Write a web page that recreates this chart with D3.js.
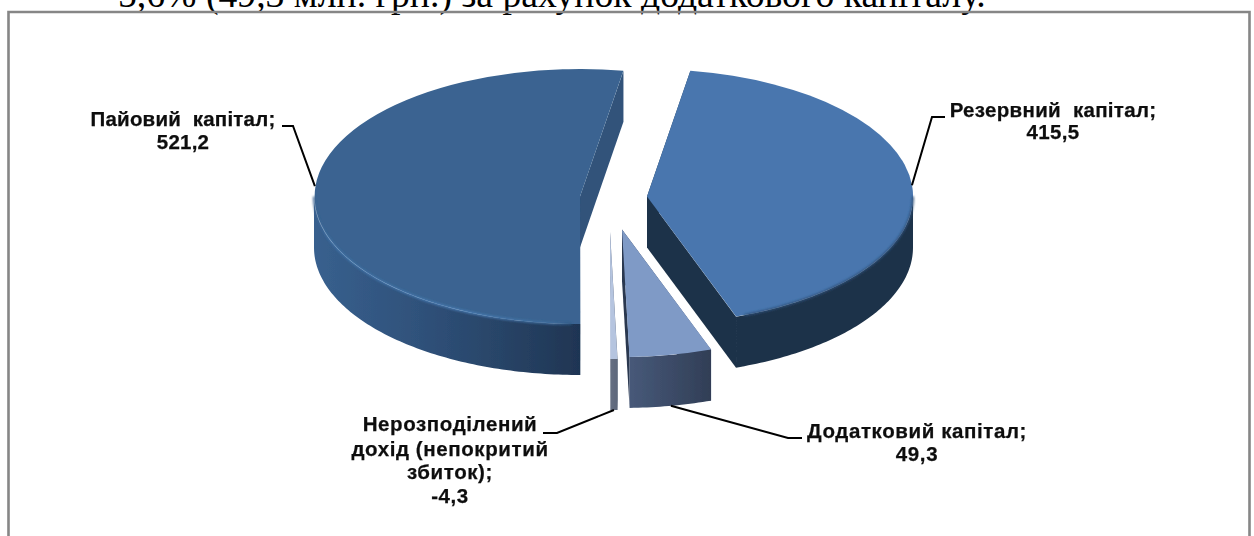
<!DOCTYPE html>
<html><head><meta charset="utf-8">
<script src="https://cdn.jsdelivr.net/npm/d3@7"></script>
<style>html,body{margin:0;padding:0;background:#fff;overflow:hidden}svg{display:block}</style>
</head><body><div id="c"></div>
<script>
const categories = ["Резервний капітал","Додатковий капітал","Нерозподілений дохід (непокритий збиток)","Пайовий капітал"];
const values = [415.5,49.3,-4.3,521.2];
const labelLines = [
  ["Резервний  капітал;","415,5"],
  ["Додатковий капітал;","49,3"],
  ["Нерозподілений","дохід (непокритий","збиток);","-4,3"],
  ["Пайовий  капітал;","521,2"]
];
const caption = "5,6% (49,3 млн. грн.) за рахунок додаткового капіталу.";

const W=1254,H=536;
const rx=266, ry=127.5, depth=51, startDeg=9.4;
const pieCentre=[613.5,196.5];
// layout: explosion offset of each slice, colours and label placement
const explode=[[33.5,0],[8.5,33],[-3.5,35],[-33.5,0]];
const topCol=["#4876AE","#7F9AC6","#B5C4DF","#3A6491"];
const cutCol=["#1D3249","#2A3750","#5F6A7E","#30527A"];
const rimStops=[
  [["0","#1D3249"],["1","#1D3249"]],
  [["0","#475979"],["1","#313E56"]],
  [["0","#666F82"],["1","#5E687B"]],
  [["0","#38608E"],["0.4","#2F517A"],["0.7","#284467"],["1","#1F3553"]]
];
const labelPos=[
  {x:1053,y:[117,139],elbow:[932,117],tail:[945,117],front:false,ls:0.3},
  {x:917,y:[438,461],elbow:[788,438],tail:[802,438],front:true,ls:0.6},
  {x:450,y:[431,456,479,503],elbow:[557,433],tail:[543,433],front:true,ls:0.6},
  {x:183,y:[126,149],elbow:[293,126],tail:[282,126],front:false,ls:0.2}
];

const svg=d3.select("#c").append("svg").attr("width",W).attr("height",H);
const defs=svg.append("defs");
const blur=defs.append("filter").attr("id","soft").attr("x","-5%").attr("y","-5%").attr("width","110%").attr("height","110%");
blur.append("feGaussianBlur").attr("stdDeviation",0.45);
const blurT=defs.append("filter").attr("id","softT").attr("x","-5%").attr("y","-5%").attr("width","110%").attr("height","110%");
blurT.append("feGaussianBlur").attr("stdDeviation",0.3);
const blur2=defs.append("filter").attr("id","bevel").attr("x","-5%").attr("y","-20%").attr("width","110%").attr("height","140%");
blur2.append("feGaussianBlur").attr("stdDeviation",0.9);

// surrounding page text, cut by the crop
svg.append("text").text(caption).attr("x",118).attr("y",7)
  .attr("font-family","'Liberation Serif'").attr("font-size",37.7).attr("fill","#000");
// frame
svg.append("path").attr("d",d3.line()([[8.5,H],[8.5,12],[1249.5,12],[1249.5,H]]))
  .attr("fill","none").attr("stroke","#868686").attr("stroke-width",2.6);

const st=startDeg*Math.PI/180;
const pie=d3.pie().value(d=>Math.abs(d)).sort(null).startAngle(st).endAngle(st+2*Math.PI);
const arcs=pie(values);
const arcGen=d3.arc().innerRadius(0).outerRadius(1);
const px=(a,i)=>pieCentre[0]+explode[i][0]+rx*Math.sin(a);
const py=(a,i)=>pieCentre[1]+explode[i][1]-ry*Math.cos(a);
const line=d3.line();

const g=svg.append("g").attr("filter","url(#soft)");
arcs.forEach((d,i)=>{
  const cx=pieCentre[0]+explode[i][0], cy=pieCentre[1]+explode[i][1];
  const s=g.append("g");
  // cut faces
  [d.startAngle,d.endAngle].forEach(a=>{
    s.append("path").attr("d",line([[cx,cy],[px(a,i),py(a,i)],[px(a,i),py(a,i)+depth],[cx,cy+depth]])+"Z").attr("fill",cutCol[i]);
  });
  // front rim: only the part between 90 and 270 degrees can be seen
  const a0=Math.max(d.startAngle,Math.PI/2), a1=Math.min(d.endAngle,Math.PI*1.5);
  const n=Math.max(2,Math.ceil((a1-a0)*60));
  const ang=d3.range(n+1).map(k=>a0+(a1-a0)*k/n);
  const upper=ang.map(a=>[px(a,i),py(a,i)]);
  const lower=ang.map(a=>[px(a,i),py(a,i)+depth]).reverse();
  const gid="rim"+i;
  const xs=upper.map(p=>p[0]);
  const lg=defs.append("linearGradient").attr("id",gid).attr("gradientUnits","userSpaceOnUse")
    .attr("x1",d3.min(xs)).attr("x2",d3.max(xs)).attr("y1",0).attr("y2",0);
  rimStops[i].forEach(t=>lg.append("stop").attr("offset",t[0]).attr("stop-color",t[1]));
  s.append("path").attr("d",line(upper.concat(lower))+"Z").attr("fill","url(#"+gid+")");
  // top face
  s.append("path").attr("d",arcGen(d)).attr("transform",`translate(${cx},${cy}) scale(${rx},${ry})`).attr("fill",topCol[i]);
  // soft bevel along the front edge of the big slices
  if(i===3||i===0){
    let stroke;
    if(i===3){
      const bg=defs.append("linearGradient").attr("id","bev3").attr("gradientUnits","userSpaceOnUse")
        .attr("x1",d3.min(xs)).attr("x2",d3.max(xs)).attr("y1",0).attr("y2",0);
      [["0","#38608E"],["0.06","#3F72A8"],["0.6","#4B80BA"],["0.9","#3F6E9F"],["1","#2A4A70"]].forEach(t=>bg.append("stop").attr("offset",t[0]).attr("stop-color",t[1]));
      stroke="url(#bev3)";
    } else stroke="#2F5078";
    s.append("path").attr("d",line(upper.slice(i===3?2:0,i===3?undefined:-2))).attr("fill","none").attr("stroke",stroke).attr("stroke-width",2).attr("filter","url(#bevel)");
  }
});

// leader lines and labels
const lab=svg.append("g").attr("filter","url(#softT)");
arcs.forEach((d,i)=>{
  const p=labelPos[i], mid=(d.startAngle+d.endAngle)/2;
  const end=[px(mid,i),py(mid,i)+(p.front?depth:0)];
  lab.append("path").attr("d",line([p.tail,p.elbow,end])).attr("fill","none").attr("stroke","#000").attr("stroke-width",2);
  labelLines[i].forEach((t,k)=>{
    lab.append("text").text(t).attr("x",p.x).attr("y",p.y[k]).attr("text-anchor","middle")
      .attr("xml:space","preserve").style("white-space","pre").attr("letter-spacing",p.ls)
      .attr("font-family","'Liberation Sans'").attr("font-weight","bold").attr("font-size",20.5)
      .attr("fill","#111").attr("stroke","#111").attr("stroke-width",0.25);
  });
});
</script></body></html>
